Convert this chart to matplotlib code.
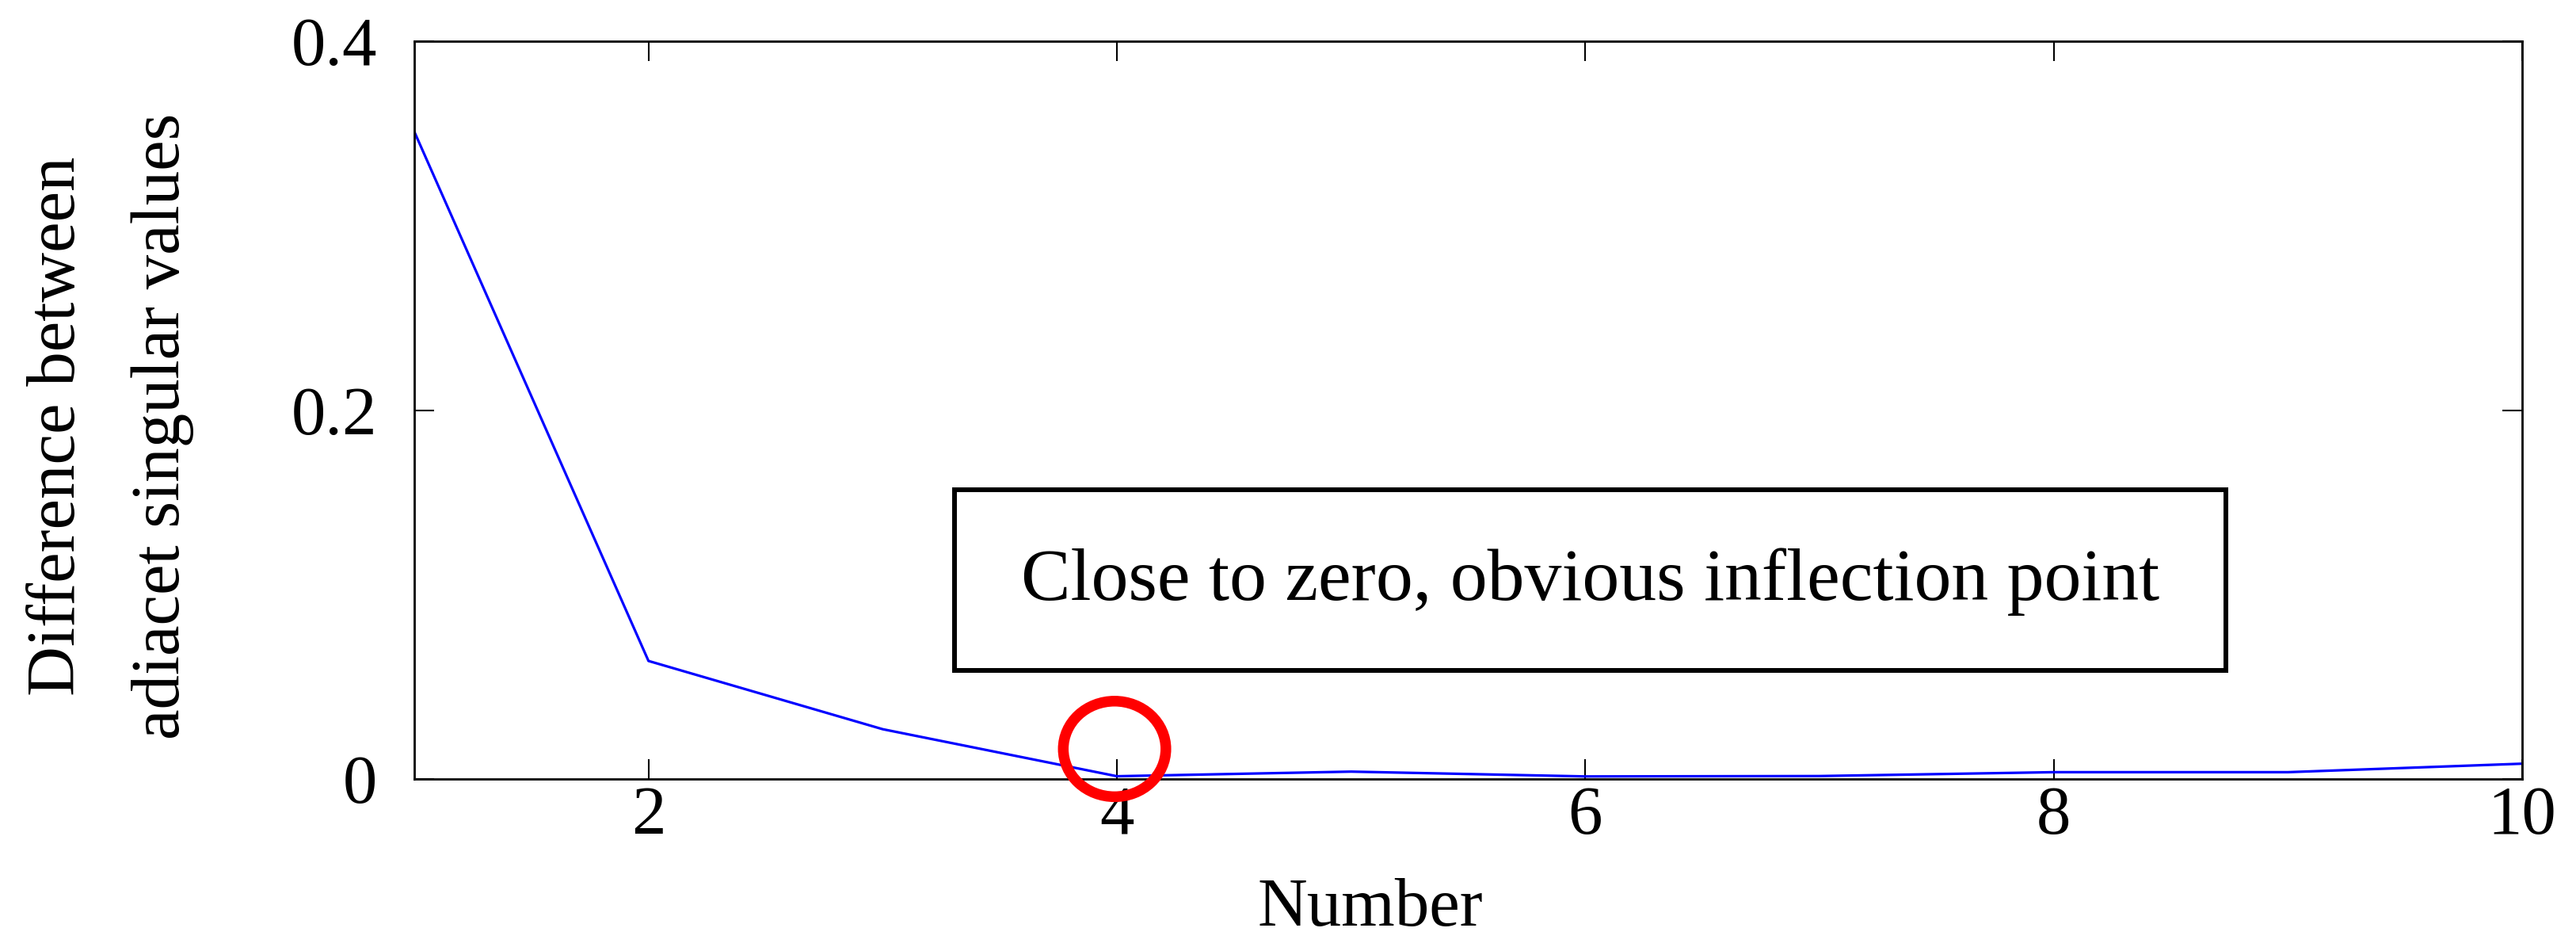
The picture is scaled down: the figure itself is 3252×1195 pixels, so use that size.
import matplotlib
matplotlib.use("Agg")
import matplotlib.pyplot as plt
from matplotlib.patches import Ellipse, Rectangle

plt.rcParams["font.family"] = ["Liberation Serif", "DejaVu Serif"]

number = [1, 2, 3, 4, 5, 6, 7, 8, 9, 10]
diff = [0.351, 0.064, 0.027, 0.0015, 0.0040, 0.0014, 0.0016, 0.0037, 0.0037, 0.0083]
xticks = [2, 4, 6, 8, 10]
yticks = [0, 0.2, 0.4]
ytick_labels = ["0", "0.2", "0.4"]
note = "Close to zero, obvious inflection point"

W, H = 3252, 1195
fig = plt.figure(figsize=(W / 100, H / 100), dpi=100)
ax = fig.add_axes([523 / W, (H - 983) / H, 2661 / W, 931 / H])

ax.plot(number, diff, color="#0000ff", lw=2.3)
ax.set_xlim(1, 10)
ax.set_ylim(0, 0.4)
ax.set_xticks(xticks)
ax.set_yticks(yticks)
ax.set_yticklabels(ytick_labels)
ax.tick_params(direction="in", length=18, width=1.5, top=True, right=True,
               labelsize=62.6)
ax.tick_params(axis="x", pad=6)
ax.tick_params(axis="y", pad=34)
for sp in ax.spines.values():
    sp.set_linewidth(2)

# annotation box
ax.add_patch(Rectangle((0.2563, 0.1472), 0.6032, 0.2448, transform=ax.transAxes,
                       fill=False, ec="black", lw=4.3, zorder=4))
ax.text(0.558, 0.2427, note, transform=ax.transAxes, ha="center", va="baseline",
        fontsize=67.5)

# red ring around the knee
ax.add_patch(Ellipse((3.99, 0.0163), 0.438, 0.0518, fill=False, ec="#ff0000",
                     lw=9.7, clip_on=False, zorder=5))

fig.text(1730 / W, 0.0226, "Number", ha="center", va="baseline", fontsize=62.6)
fig.text(94 / W, (H - 538) / H, "Difference between", rotation=90,
         rotation_mode="anchor", ha="center", va="baseline", fontsize=62.6)
fig.text(226 / W, (H - 538) / H, "adiacet singular values", rotation=90,
         rotation_mode="anchor", ha="center", va="baseline", fontsize=62.6)

fig.savefig("out.png", dpi=100)
